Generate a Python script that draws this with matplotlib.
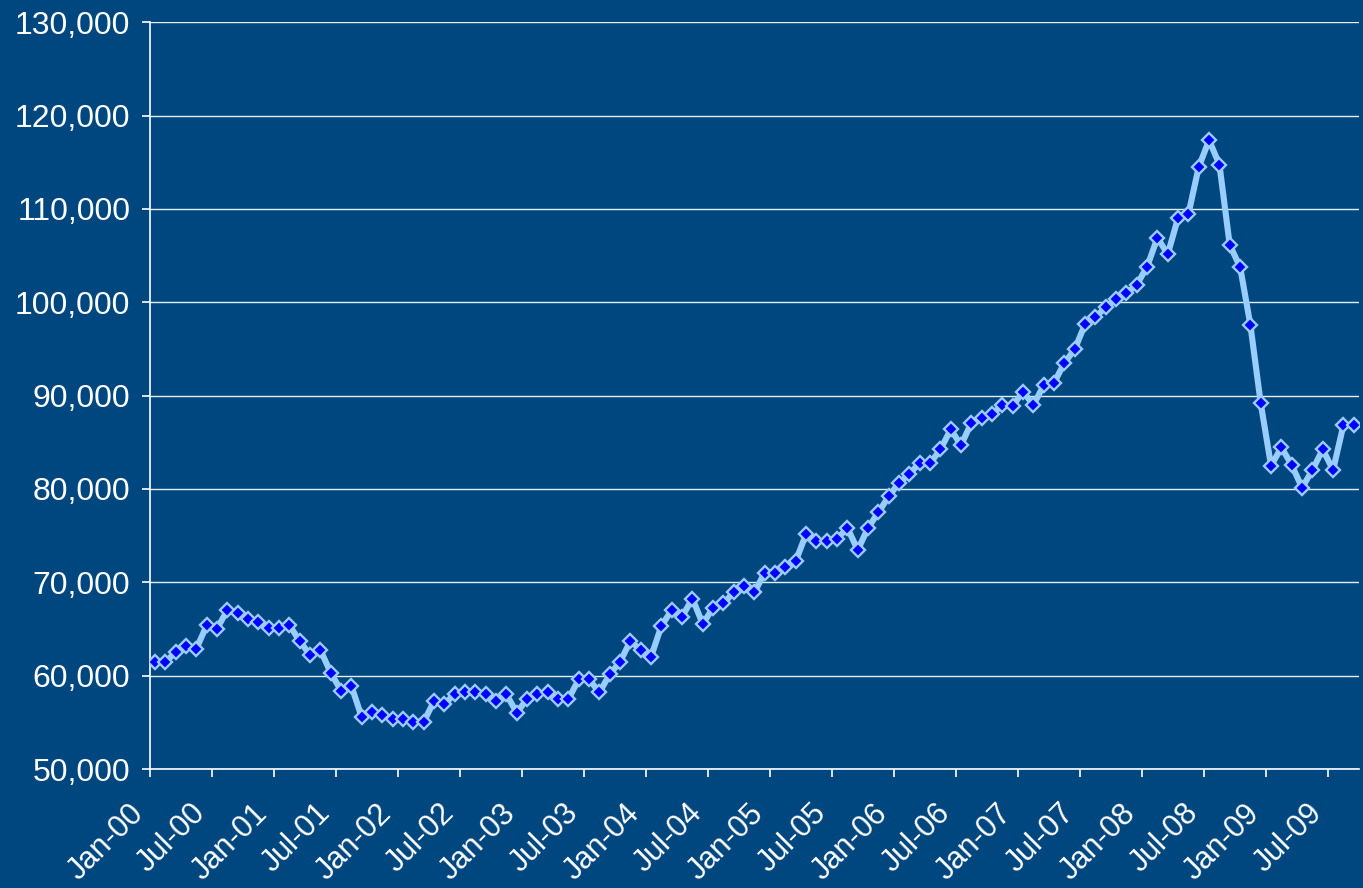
import numpy as np
import matplotlib
matplotlib.use('Agg')
import matplotlib.pyplot as plt
from matplotlib.ticker import FuncFormatter

# monthly values Jan-00 .. Sep-09
values = [
    61490, 61490, 62500, 63200, 62900, 65400, 65050, 67030, 66740, 66060, 65800, 65110,
    65110, 65400, 63700, 62210, 62740, 60310, 58390, 58890, 55540, 56070, 55780, 55350,
    55320, 55070, 55070, 57280, 56960, 58030, 58280, 58280, 58030, 57280, 57990, 56030,
    57500, 57990, 58280, 57500, 57500, 59600, 59600, 58210, 60140, 61490, 63710, 62740,
    62030, 65330, 67030, 66310, 68260, 65530, 67280, 67750, 68920, 69630, 68920, 71050,
    71050, 71600, 72280, 75170, 74420, 74420, 74630, 75840, 73450, 75840, 77500, 79200,
    80660, 81590, 82800, 82730, 84230, 86370, 84690, 87090, 87560, 88020, 88980, 88910,
    90410, 88980, 91120, 91370, 93510, 94960, 97660, 98440, 99440, 100330, 100950, 101870,
    103800, 106900, 105150, 109040, 109440, 114500, 117360, 114750, 106120, 103800, 97550, 89160,
    82480, 84450, 82560, 80130, 82020, 84240, 82020, 86840, 86840,
]

tick_labels = ['Jan-00', 'Jul-00', 'Jan-01', 'Jul-01', 'Jan-02', 'Jul-02', 'Jan-03',
               'Jul-03', 'Jan-04', 'Jul-04', 'Jan-05', 'Jul-05', 'Jan-06', 'Jul-06',
               'Jan-07', 'Jul-07', 'Jan-08', 'Jul-08', 'Jan-09', 'Jul-09']

y_ticks = [50000, 60000, 70000, 80000, 90000, 100000, 110000, 120000, 130000]

bg = '#01477F'
plt.rcParams['font.family'] = ['Liberation Sans', 'DejaVu Sans']

fig = plt.figure(figsize=(13.63, 8.88), dpi=100, facecolor=bg)
ax = fig.add_axes([0.110, 0.134, 0.887, 0.841])
ax.set_facecolor(bg)

x = np.arange(len(values))
ax.plot(x, values, color='#99CCFF', linewidth=4.4, marker='D', markersize=7,
        markerfacecolor='#0000FF', markeredgecolor='#99CCFF', markeredgewidth=1.7,
        zorder=3)

ax.set_xlim(-0.5, len(values) - 0.5)
ax.set_ylim(50000, 130000)
ax.set_yticks(y_ticks)
ax.yaxis.set_major_formatter(FuncFormatter(lambda v, p: f'{v:,.0f}'))

ax.set_xticks(np.arange(len(tick_labels)) * 6 - 0.5)
ax.set_xticklabels(tick_labels, rotation=45, ha='right')

ax.grid(axis='y', color='#E6EEF6', linewidth=1.0)
ax.set_axisbelow(True)

for s in ['top', 'right']:
    ax.spines[s].set_visible(False)
for s in ['left', 'bottom']:
    ax.spines[s].set_color('white')
    ax.spines[s].set_linewidth(1.2)

ax.tick_params(axis='both', colors='white', labelcolor='white', labelsize=23,
               length=6, width=1.2, direction='out')
ax.tick_params(axis='x', pad=15, labelsize=22)
ax.tick_params(axis='y', pad=8)

fig.savefig('out.png', dpi=100, facecolor=bg)
